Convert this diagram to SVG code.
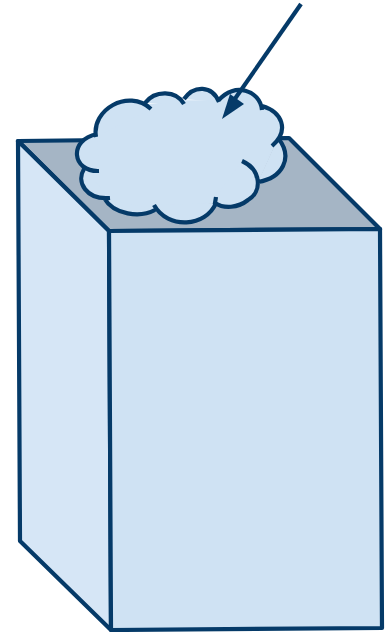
<svg xmlns="http://www.w3.org/2000/svg" width="390" height="632" viewBox="0 0 390 632">
<style>
.s{stroke:#053a68;stroke-width:4.2;stroke-linejoin:round;stroke-linecap:butt}
.b{fill:none;stroke:#053a68;stroke-width:4.2;stroke-linecap:butt}
.f{fill:#cfe2f3;stroke:#cfe2f3;stroke-width:1.5;stroke-linejoin:round}
</style>
<defs>
<path id="bumps" d="M96,137C91,110 128,88 151,109M145,103C155,90 176,90 184,104M184,99C194,85 212,85 219,102M219,100C234,82 260,90 262,110M262,106C282,112 290,130 272,146M278,138C294,158 282,178 258,182M242,161C262,170 262,192 248,200C238,208 224,209 215,203L216,197M216,203C206,227 168,230 154,205M155,210C140,218 114,215 104,198M110,198C86,200 76,182 84,169M99,171C72,172 68,140 97,134"/>
</defs>
<rect width="390" height="632" fill="#fff"/>
<g id="box">
<polygon class="s" fill="#a5b5c5" points="18,141 289,138 380,229 109,231"/>
<polygon class="s" fill="#d6e6f6" points="18,141 109,231 111,630 20,541"/>
<polygon class="s" fill="#cfe2f3" points="109,231 380,229 382,628 111,630"/>
</g>
<g id="cloud">
<path class="f" d="M96,135L147,105L184,101L219,101L262,107L276,141L258,181L248,200L216,202L156,211L105,199L85,170Z"/>
<use href="#bumps" class="f"/>
<use href="#bumps" class="b"/>
</g>
<g id="connectors">
<line class="s" x1="301" y1="4" x2="232" y2="103"/>
<polygon fill="#053a68" points="222,119 230,94 244,104"/>
</g>
</svg>
